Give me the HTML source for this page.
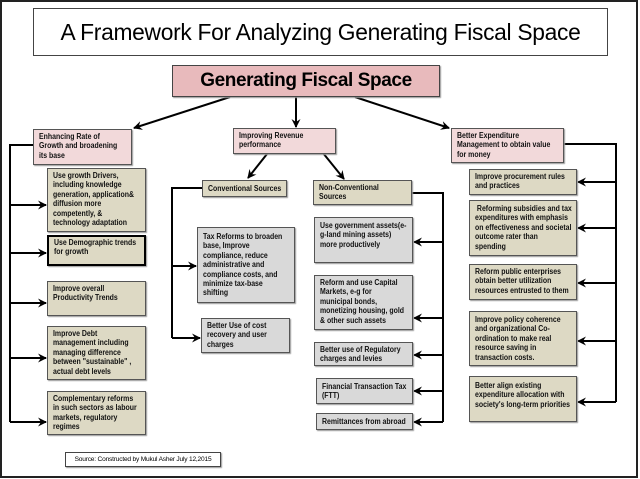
<!DOCTYPE html>
<html><head><meta charset="utf-8"><style>
*{margin:0;padding:0;box-sizing:border-box}
body{width:640px;height:479px;background:#fff;position:relative;overflow:hidden;font-family:"Liberation Sans",sans-serif}
.b{position:absolute;border:1px solid #555;font-weight:bold;font-size:7.8px;line-height:9.4px;color:#111;padding:2px 3px 0 5px;box-shadow:1px 1px 1px #999;overflow:visible}
.b span{display:block;white-space:nowrap;transform:scaleX(.89);transform-origin:0 0}
.p{background:#f2d9da}
.t{background:#ddd9c4}
.g{background:#d9d9d9}
svg{position:absolute;left:0;top:0}
</style></head><body>
<svg width="640" height="479">
<defs><marker id="a" markerWidth="9" markerHeight="9" refX="8" refY="4.5" orient="auto" markerUnits="userSpaceOnUse"><path d="M0,0 L9,4.5 L0,9 L3,4.5z" fill="#000"/></marker></defs>
<rect x="1" y="1" width="636" height="476" fill="none" stroke="#222" stroke-width="2"/>
<g stroke="#000" stroke-width="2" fill="none">
<line x1="230" y1="97" x2="134" y2="128" marker-end="url(#a)"/>
<line x1="296" y1="97" x2="296" y2="127" marker-end="url(#a)"/>
<line x1="355" y1="97" x2="449" y2="128" marker-end="url(#a)"/>
<polyline points="33,145 10,145 10,422"/>
<line x1="10" y1="205" x2="46" y2="205" marker-end="url(#a)"/>
<line x1="10" y1="253" x2="46" y2="253" marker-end="url(#a)"/>
<line x1="10" y1="303" x2="46" y2="303" marker-end="url(#a)"/>
<line x1="10" y1="358" x2="46" y2="358" marker-end="url(#a)"/>
<line x1="10" y1="422" x2="46" y2="422" marker-end="url(#a)"/>
<line x1="267" y1="154" x2="248" y2="178" marker-end="url(#a)"/>
<line x1="323" y1="153" x2="344" y2="179" marker-end="url(#a)"/>
<polyline points="202,188 172,188 172,338"/>
<line x1="172" y1="266" x2="196" y2="266" marker-end="url(#a)"/>
<line x1="172" y1="338" x2="200" y2="338" marker-end="url(#a)"/>
<polyline points="412,193 443,193 443,422"/>
<line x1="443" y1="242" x2="414" y2="242" marker-end="url(#a)"/>
<line x1="443" y1="318" x2="414" y2="318" marker-end="url(#a)"/>
<line x1="443" y1="355" x2="414" y2="355" marker-end="url(#a)"/>
<line x1="443" y1="391" x2="414" y2="391" marker-end="url(#a)"/>
<line x1="443" y1="422" x2="414" y2="422" marker-end="url(#a)"/>
<polyline points="564,144 616,144 616,402"/>
<line x1="616" y1="182" x2="578" y2="182" marker-end="url(#a)"/>
<line x1="616" y1="228" x2="578" y2="228" marker-end="url(#a)"/>
<line x1="616" y1="283" x2="578" y2="283" marker-end="url(#a)"/>
<line x1="616" y1="341" x2="578" y2="341" marker-end="url(#a)"/>
<line x1="616" y1="402" x2="578" y2="402" marker-end="url(#a)"/>
</g>
</svg>
<div style="position:absolute;left:33px;top:8px;width:575px;height:48px;border:1px solid #444;font-size:22.8px;line-height:46px;text-align:center;letter-spacing:-0.3px">A Framework For Analyzing Generating Fiscal Space</div>
<div style="position:absolute;left:172px;top:65px;width:268px;height:32px;border:1px solid #444;background:#e8babc;font-size:19px;font-weight:bold;line-height:30px;text-align:center;letter-spacing:-0.4px;box-shadow:1px 1px 1px #999">Generating Fiscal Space</div>

<div class="b p" style="left:33px;top:129px;width:99px;height:36px"><span>Enhancing Rate of<br>Growth and broadening<br>its base</span></div>
<div class="b t" style="left:47px;top:168px;width:99px;height:64px"><span>Use growth Drivers,<br>including knowledge<br>generation, application&amp;<br>diffusion more<br>competently, &amp;<br>technology adaptation</span></div>
<div class="b t" style="left:47px;top:235px;width:99px;height:31px;border:2px solid #000;padding-top:1px"><span>Use Demographic trends<br>for growth</span></div>
<div class="b t" style="left:47px;top:281px;width:99px;height:35px"><span>Improve overall<br>Productivity Trends</span></div>
<div class="b t" style="left:47px;top:326px;width:99px;height:54px"><span>Improve Debt<br>management including<br>managing difference<br>between "sustainable" ,<br>actual debt levels</span></div>
<div class="b t" style="left:47px;top:391px;width:99px;height:44px"><span>Complementary reforms<br>in such sectors as labour<br>markets, regulatory<br>regimes</span></div>

<div class="b p" style="left:233px;top:128px;width:103px;height:26px"><span>Improving Revenue<br>performance</span></div>
<div class="b t" style="left:202px;top:180px;width:85px;height:17px;padding-top:3px"><span>Conventional Sources</span></div>
<div class="b t" style="left:313px;top:180px;width:99px;height:25px"><span>Non-Conventional<br>Sources</span></div>
<div class="b g" style="left:197px;top:227px;width:98px;height:76px;padding-top:4px"><span>Tax Reforms to broaden<br>base, Improve<br>compliance, reduce<br>administrative and<br>compliance costs, and<br>minimize tax-base<br>shifting</span></div>
<div class="b g" style="left:201px;top:318px;width:89px;height:35px"><span>Better Use of cost<br>recovery and user<br>charges</span></div>
<div class="b g" style="left:314px;top:217px;width:99px;height:46px;padding-top:3px"><span>Use government assets(e-<br>g-land mining assets)<br>more productively</span></div>
<div class="b g" style="left:314px;top:275px;width:99px;height:55px"><span>Reform and use Capital<br>Markets, e-g for<br>municipal bonds,<br>monetizing housing, gold<br>&amp; other such assets</span></div>
<div class="b g" style="left:314px;top:342px;width:99px;height:24px"><span>Better use of Regulatory<br>charges and levies</span></div>
<div class="b g" style="left:316px;top:378px;width:97px;height:26px;padding-top:3px"><span>Financial Transaction Tax<br>(FTT)</span></div>
<div class="b g" style="left:316px;top:413px;width:97px;height:17px;padding-top:3px"><span>Remittances from abroad</span></div>

<div class="b p" style="left:451px;top:128px;width:113px;height:35px"><span>Better Expenditure<br>Management to obtain value<br>for money</span></div>
<div class="b t" style="left:469px;top:169px;width:108px;height:26px"><span>Improve procurement rules<br>and practices</span></div>
<div class="b t" style="left:469px;top:200px;width:108px;height:56px;padding-top:3px"><span>&nbsp;Reforming subsidies and tax<br>expenditures with emphasis<br>on effectiveness and societal<br>outcome rater than<br>spending</span></div>
<div class="b t" style="left:469px;top:264px;width:108px;height:36px"><span>Reform public enterprises<br>obtain better utilization<br>resources entrusted to them</span></div>
<div class="b t" style="left:469px;top:311px;width:108px;height:55px;padding-top:3px"><span>Improve policy coherence<br>and organizational Co-<br>ordination to make real<br>resource saving in<br>transaction costs.</span></div>
<div class="b t" style="left:469px;top:376px;width:108px;height:46px;padding-top:4px"><span>Better align existing<br>expenditure allocation with<br>society's long-term priorities</span></div>

<div style="position:absolute;left:65px;top:452px;width:156px;height:15px;border:1px solid #444;font-size:6.6px;line-height:13px;text-align:center;letter-spacing:-0.2px;box-shadow:1px 1px 1px #999">Source: Constructed by Mukul Asher July 12,2015</div>
</body></html>
